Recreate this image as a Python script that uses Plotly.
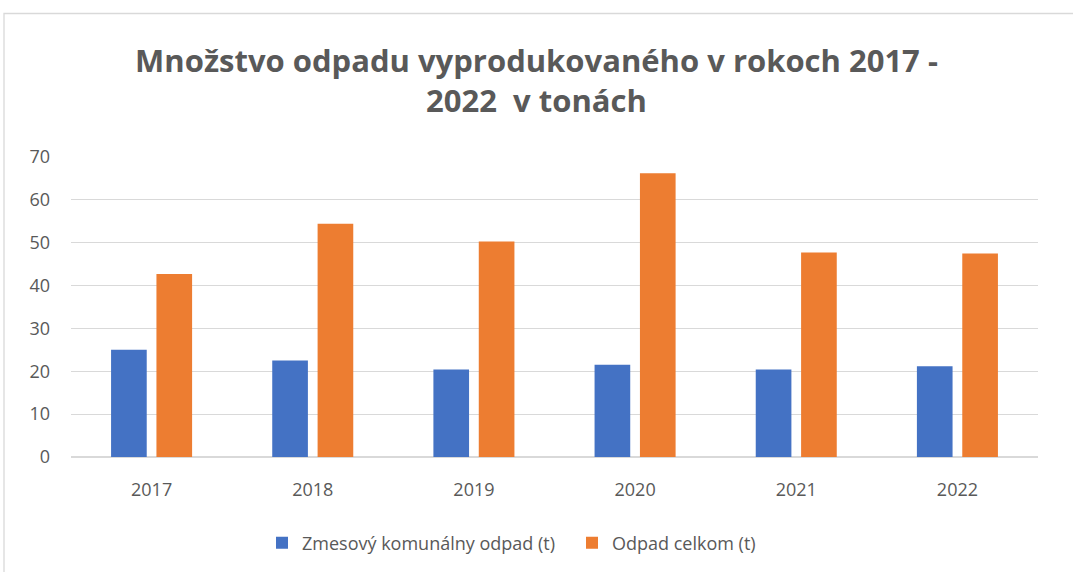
import plotly.graph_objects as go

years = ["2017", "2018", "2019", "2020", "2021", "2022"]
zmesovy = [25.0, 22.5, 20.4, 21.5, 20.4, 21.2]
celkom = [42.7, 54.4, 50.3, 66.2, 47.7, 47.5]
y_ticks = [0, 10, 20, 30, 40, 50, 60, 70]

W, H = 1073, 572
L, R, T, B = 71, 1038, 157, 458

fig = go.Figure()
fig.add_trace(go.Bar(x=years, y=zmesovy, name="Zmesový komunálny odpad (t)",
                     marker=dict(color="#4472C4", line=dict(width=0))))
fig.add_trace(go.Bar(x=years, y=celkom, name="Odpad celkom (t)",
                     marker=dict(color="#ED7D31", line=dict(width=0))))

pw, ph = R - L, B - T
def px2paper_x(px):
    return (px - L) / pw
def px2paper_y(py):
    return (B - py) / ph

fig.add_shape(type="rect", xref="paper", yref="paper",
              x0=px2paper_x(4), x1=px2paper_x(1090),
              y0=px2paper_y(590), y1=px2paper_y(13),
              line=dict(color="#d9d9d9", width=1.3), fillcolor="rgba(0,0,0,0)", layer="below")

fig.update_layout(
    width=W, height=H,
    margin=dict(l=L, r=W - R, t=T, b=H - B),
    paper_bgcolor="white", plot_bgcolor="white",
    barmode="group", bargap=0.437, bargroupgap=0.214,
    font=dict(family="Open Sans", color="#595959", size=18),
    title=dict(text="<b>Množstvo odpadu vyprodukovaného v rokoch 2017 -<br>2022  v tonách</b>",
               x=0.5, xanchor="center", y=1 - 72 / H, yanchor="middle", yref="container",
               font=dict(family="Open Sans", size=31, color="#595959")),
    legend=dict(orientation="h", x=px2paper_x(262), xanchor="left", y=px2paper_y(543), yanchor="middle",
                font=dict(size=18, color="#595959"), itemwidth=30, entrywidth=265, entrywidthmode="pixels"),
    showlegend=True,
)
fig.update_yaxes(range=[0, 70], tickvals=y_ticks, showgrid=True, gridcolor="#d9d9d9", gridwidth=1,
                 zeroline=True, zerolinecolor="#d9d9d9", showline=False, ticks="",
                 ticklabelstandoff=20, tickfont=dict(size=18, color="#595959"))
fig.update_xaxes(showline=True, linecolor="#d9d9d9", ticks="", ticklabelstandoff=16,
                 tickfont=dict(size=18, color="#595959"))

fig.write_html("out.html", config={"displayModeBar": False},
               post_script="document.body.style.margin='0';")
